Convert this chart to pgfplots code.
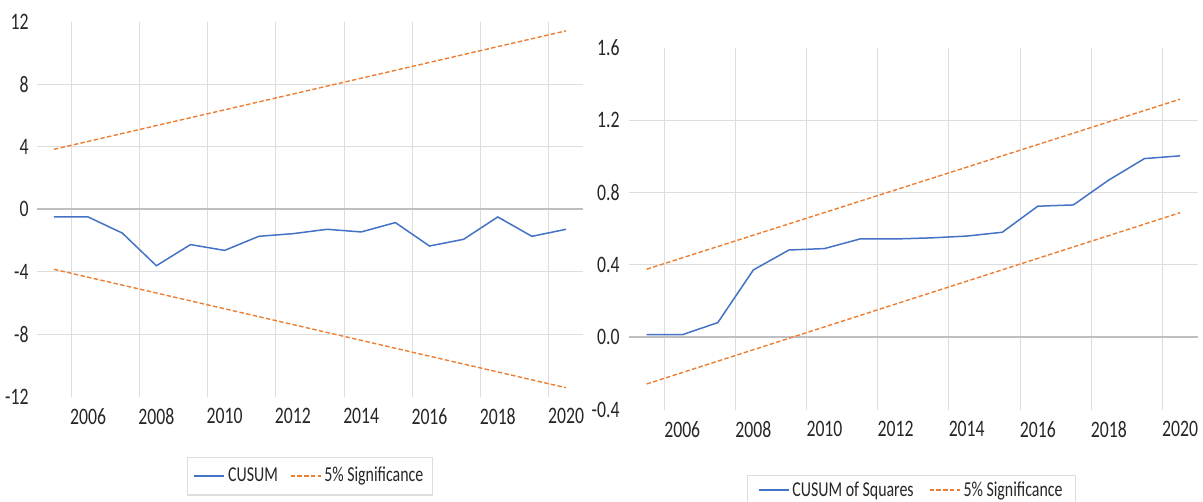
\documentclass[border=0pt]{standalone}
\usepackage{fontspec}
\setmainfont{Carlito}[FakeStretch=0.75]
\usepackage{pgfplots}
\pgfplotsset{compat=1.18}

\definecolor{cusumblue}{HTML}{4472C4}
\definecolor{sigorange}{HTML}{ED7D31}
\definecolor{gridgray}{HTML}{DDDDDD}
\definecolor{zerogray}{HTML}{BFBFBF}
\definecolor{labelgray}{HTML}{262626}

\pgfplotsset{
  stability/.style={
    scale only axis,
    xmin=2004.5, xmax=2020.5,
    xtick={2006,2008,...,2020},
    xticklabels={2006,2008,2010,2012,2014,2016,2018,2020},
    minor xtick={2005.5,2007.5,...,2019.5},
    xminorgrids=true,
    ymajorgrids=true,
    grid style={draw=gridgray, line width=0.5pt},
    minor grid style={draw=gridgray, line width=0.5pt},
    axis line style={draw=none},
    major tick length=0pt, minor tick length=0pt,
    tick style={draw=none},
    ticklabel style={font=\fontsize{11.8}{14}\selectfont, text=labelgray, inner sep=0pt},
    xticklabel style={anchor=north, yshift=-5.5pt},
    extra y tick style={grid=none},
    legend columns=2,
    legend style={draw=gridgray, line width=0.6pt, anchor=north west,
      font=\fontsize{10.6}{12.5}\selectfont, text=labelgray,
      inner xsep=3pt, inner ysep=3.5pt, nodes={inner sep=1.5pt},
      /tikz/every even column/.append style={column sep=4.5pt}},
    legend image code/.code={\draw[#1] (0pt,0pt) -- (15pt,0pt);},
  },
  sumline/.style={color=cusumblue, line width=0.75pt, mark=none},
  sigline/.style={color=sigorange, line width=0.7pt, dash pattern=on 2.2pt off 1.2pt, mark=none},
}

\begin{document}
\begin{tikzpicture}
\path[use as bounding box] (0,0) rectangle (601.5pt,251pt);

% CUSUM
\begin{axis}[
  stability,
  at={(18.45pt,52.6pt)}, anchor=south west,
  width=273.1pt, height=187.5pt,
  ymin=-12, ymax=12,
  ytick={-8,-4,0,4,8},
  yticklabels={-8,-4,0,4,8},
  extra y ticks={-12,12},
  extra y tick labels={-12,12},
  yticklabel style={anchor=east, xshift=-4pt},
  legend style={at={(0.2748,-0.1597)}},
]
\draw[zerogray, line width=0.8pt] (axis cs:2004.5,0) -- (axis cs:2020.5,0);
\addplot[sumline] coordinates {
  (2005,-0.49) (2006,-0.49) (2007,-1.52) (2008,-3.61)
  (2009,-2.26) (2010,-2.63) (2011,-1.73) (2012,-1.56)
  (2013,-1.28) (2014,-1.45) (2015,-0.85) (2016,-2.35)
  (2017,-1.92) (2018,-0.49) (2019,-1.73) (2020,-1.28)
};
\addlegendentry{CUSUM}
\addplot[sigline] coordinates {(2005,3.84) (2020,11.42)};
\addlegendentry{5\% Significance}
\addplot[sigline, forget plot] coordinates {(2005,-3.84) (2020,-11.42)};
\end{axis}

% CUSUM of squares
\begin{axis}[
  stability,
  at={(314.45pt,46.15pt)}, anchor=south west,
  width=284.45pt, height=181.05pt,
  ymin=-0.4, ymax=1.6,
  ytick={0,0.4,0.8,1.2},
  yticklabels={0.0,0.4,0.8,1.2},
  extra y ticks={-0.4,1.6},
  extra y tick labels={-0.4,1.6},
  yticklabel style={anchor=east, xshift=-4.5pt},
  legend style={at={(0.2076,-0.1800)}, inner ysep=1.5pt, inner xsep=5pt,
    /tikz/every even column/.append style={column sep=6pt}},
  legend image code/.code={\draw[#1, line width=0.9pt] (0pt,0pt) -- (15pt,0pt);},
]
\draw[zerogray, line width=0.8pt] (axis cs:2004.5,0) -- (axis cs:2020.5,0);
\addplot[sumline] coordinates {
  (2005,0.014) (2006,0.014) (2007,0.081) (2008,0.372)
  (2009,0.482) (2010,0.490) (2011,0.543) (2012,0.543)
  (2013,0.549) (2014,0.559) (2015,0.580) (2016,0.724)
  (2017,0.731) (2018,0.869) (2019,0.987) (2020,1.002)
};
\addlegendentry{CUSUM of Squares}
\addplot[sigline] coordinates {(2005,0.376) (2020,1.315)};
\addlegendentry{5\% Significance}
\addplot[sigline, forget plot] coordinates {(2005,-0.258) (2020,0.688)};
\end{axis}
\end{tikzpicture}
\end{document}
